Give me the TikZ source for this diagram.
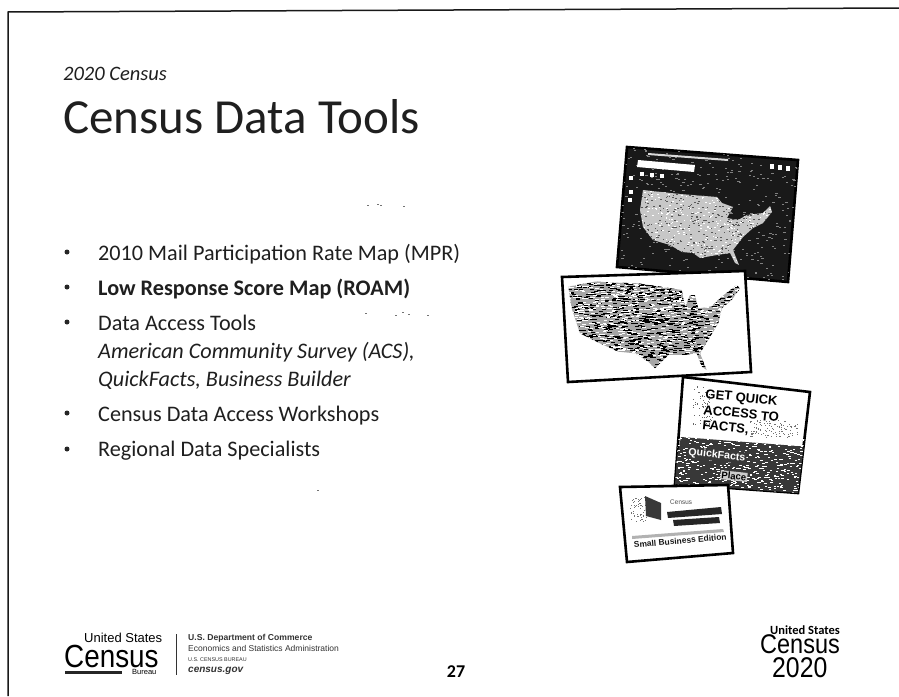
\documentclass[tikz,border=0pt]{standalone}
\usepackage{fontspec}
\setmainfont{Carlito}
\newfontfamily\arialf{Liberation Sans}
\newfontfamily\narrowf[FakeStretch=0.87]{Liberation Sans}
\usetikzlibrary{calc}
\tikzset{
  body/.style={anchor=base west,inner sep=0pt,font=\fontsize{22.2}{26}\selectfont,text=black!88},
  bul/.style={circle,fill=black!85,inner sep=0pt,minimum size=5pt},
  panel/.style={draw=black,line width=2.6pt,fill=white,line join=miter},
  foot/.style={anchor=base west,inner sep=0pt,font=\fontsize{8.5}{9}\selectfont\arialf,text=black!80},
  logo/.style={inner sep=0pt,anchor=base west,text=black},
  qtext/.style={anchor=base west,inner sep=0pt,rotate=-6,font=\arialf\bfseries\fontsize{13}{14}\selectfont},
}
\newcommand{\usoutline}{(3,0) -- (40,4) -- (77,7) -- (82,13) -- (93,17) -- (87,28) -- (98,30) -- (107,25) -- (123,23) -- (130,16) -- (132,22) -- (123,33) -- (113,38) -- (103,47) -- (93,60) -- (99,75) -- (95,73) -- (90,63) -- (77,65) -- (60,68) -- (53,63) -- (42,62) -- (30,55) -- (13,50) -- (3,37) -- (0,20) -- cycle}
\newcommand{\usoutlineb}{(40,65) -- (120,50) -- (250,55) -- (380,75) -- (390,125) -- (405,90) -- (420,90) -- (430,130) -- (470,125) -- (500,95) -- (545,60) -- (555,70) -- (530,105) -- (500,130) -- (490,175) -- (450,240) -- (435,265) -- (455,315) -- (440,305) -- (425,265) -- (385,270) -- (340,270) -- (300,310) -- (280,290) -- (240,265) -- (190,260) -- (135,235) -- (75,205) -- (50,130) -- cycle}
% count, colour, seed, width, height
\newcommand{\specks}[5]{\pgfmathsetseed{#3}\foreach \i in {1,...,#1}{\pgfmathsetmacro{\xx}{rnd*135}\pgfmathsetmacro{\yy}{rnd*78}\fill[#2] (\xx,\yy) rectangle ++(#4,#5);}}
\begin{document}
\begin{tikzpicture}[x=1pt,y=-1pt]
\useasboundingbox (0,0) rectangle (899,696);
\fill[white] (0,0) rectangle (899,696);
% slide frame
\draw[line width=1.5pt,black!90] (8,696) -- (8,12) -- (899,8);
% heading
\node[anchor=base west,inner sep=0pt,font=\itshape\fontsize{20.5}{24}\selectfont,text=black!88] (kicker) at (63,80) {2020 Census};
\node[anchor=base west,inner sep=0pt,font=\fontsize{49}{52}\selectfont,text=black!88] (title) at (63,133) {Census Data Tools};
% bullets
\node[bul] (b1) at (67,252) {};
\node[body] (t1) at (98,260) {2010 Mail Participation Rate Map (MPR)};
\node[bul] (b2) at (67,287) {};
\node[body,font=\bfseries\fontsize{22.2}{26}\selectfont] (t2) at (98,295) {Low Response Score Map (ROAM)};
\node[bul] (b3) at (67,322) {};
\node[body] (t3) at (98,330) {Data Access Tools};
\node[body,font=\itshape\fontsize{22.2}{26}\selectfont] (t3b) at (98,358) {American Community Survey (ACS),};
\node[body,font=\itshape\fontsize{22.2}{26}\selectfont] (t3c) at (98,386) {QuickFacts, Business Builder};
\node[bul] (b4) at (67,413) {};
\node[body] (t4) at (98,421) {Census Data Access Workshops};
\node[bul] (b5) at (67,449) {};
\node[body] (t5) at (98,456) {Regional Data Specialists};
% scan noise
\foreach \a/\b in {367/205,377/204,380/205,403/206,365/313,395/315,402/312,408/314,427/315,317/490}{\fill[black!55] (\a,\b) rectangle ++(1.5,1);}
% dark map panel
\draw[panel,fill=black!90] (627,147) -- (798,160) -- (788,282) -- (617,267) -- cycle;
\begin{scope}
 \clip (627,147) -- (798,160) -- (788,282) -- (617,267) -- cycle;
 \begin{scope}[shift={(615,148)},x=1.35pt,y=-1.7pt]\specks{420}{black!50}{11}{1.6}{0.5}\end{scope}
\end{scope}
\fill[white] (638,160) -- (695,165) -- (694,172) -- (637,167) -- cycle;
\foreach \a/\b in {640/172,650/173,660/174,629/176,629/190,628/198}{\fill[white] (\a,\b) rectangle ++(3.5,3.5);}
\fill[black!15] (648,153) -- (728,159) -- (728,161) -- (648,155) -- cycle;
\foreach \a/\b in {770/164,778/165,786/166}{\fill[white] (\a,\b) rectangle ++(3.5,5);}
\begin{scope}[shift={(640,190)}]
 \fill[black!22] \usoutline;
 \clip \usoutline;
 \specks{500}{black!65}{5}{1.6}{0.7}
 \specks{350}{white}{6}{1.6}{0.7}
\end{scope}
% choropleth map panel
\draw[panel] (562,277) -- (745,271) -- (751,372) -- (568,382) -- cycle;
\begin{scope}[shift={(555,265)},x=0.3333pt,y=-0.3333pt]
  \fill[black!35] \usoutlineb;
  \clip \usoutlineb;
  \begin{scope}[shift={(30,40)},x=1.3pt,y=-1.2pt]
   \specks{1300}{black}{7}{3.2}{0.8}
   \specks{850}{white}{8}{2.6}{0.8}
  \end{scope}
\end{scope}
% QuickFacts panel
\draw[panel] (683,377) -- (810,392) -- (798,493) -- (675,484) -- cycle;
\begin{scope}
 \clip (683,377) -- (810,392) -- (798,493) -- (675,484) -- cycle;
 \fill[black!78] (681,437) -- (810,447) -- (805,500) -- (670,490) -- cycle;
 \begin{scope}[shift={(672,436)},x=1pt,y=-0.75pt]\specks{460}{white}{3}{2.4}{0.7}\end{scope}
 \begin{scope}[shift={(693,385)},x=0.15pt,y=-0.55pt]\specks{70}{black!60}{21}{6}{1.2}\end{scope}
 \begin{scope}[shift={(750,420)},x=0.35pt,y=-0.22pt]\specks{110}{black!55}{22}{3}{2.5}\end{scope}
\end{scope}
\node[qtext] (q1) at (705,398) {GET QUICK};
\node[qtext] (q2) at (703,414) {ACCESS TO};
\node[qtext] (q3) at (702,429) {FACTS,};
\node[qtext,fill=black!78,inner sep=1pt,font=\arialf\bfseries\fontsize{10.6}{12}\selectfont,text=white] (q4) at (687,455) {QuickFacts};
\node[qtext,fill=black!20,inner sep=1pt,font=\arialf\bfseries\fontsize{9.5}{10}\selectfont,text=black] (q5) at (720,478) {Place};
% Business builder panel
\draw[panel] (620,487) -- (728,485) -- (733,553) -- (627,562) -- cycle;
\begin{scope}[shift={(630,497)},x=0.18pt,y=-0.33pt]\specks{70}{black!55}{31}{6}{2.5}\end{scope}
\fill[black!78] (645,496) -- (661,503) -- (661,520) -- (646,516) -- cycle;
\node[anchor=base west,inner sep=0pt,rotate=3,font=\arialf\fontsize{6.5}{7}\selectfont,text=black!70] (c1) at (670,505) {Census};
\fill[black!85] (667,512) -- (721,507) -- (722,514) -- (668,518) -- cycle;
\fill[black!85] (673,520) -- (719,517) -- (720,523) -- (674,526) -- cycle;
\fill[black!30] (632,536) -- (723,529) -- (724,532) -- (632,539) -- cycle;
\node[anchor=base west,inner sep=0pt,rotate=5,font=\arialf\bfseries\fontsize{8.4}{10}\selectfont,text=black!90] (c2) at (634,548) {Small Business Edition};
% footer left
\node[logo,font=\arialf\fontsize{13}{14}\selectfont] (us) at (84,642) {United States};
\node[logo,font=\narrowf\fontsize{32}{33}\selectfont] (cen) at (64,667.5) {Census};
\fill[black!85] (65,671) rectangle (122,673.5);
\node[logo,font=\arialf\fontsize{7.5}{8}\selectfont] (bur) at (132,674.5) {Bureau};
\draw[line width=1pt,black!80] (176,634) -- (176,675);
\node[foot,font=\arialf\bfseries\fontsize{8.6}{9}\selectfont] (f1) at (188,640) {U.S. Department of Commerce};
\node[foot] (f2) at (188,651) {Economics and Statistics Administration};
\node[foot,font=\arialf\fontsize{5.4}{6}\selectfont] (f3) at (188,661) {U.S. CENSUS BUREAU};
\node[foot,font=\arialf\bfseries\itshape\fontsize{10}{11}\selectfont] (f4) at (188,672) {census.gov};
\node[anchor=base,inner sep=0pt,font=\bfseries\fontsize{18}{20}\selectfont] (pg) at (456,677) {27};
% footer right
\node[logo,font=\bfseries\fontsize{12.5}{13}\selectfont] (us2) at (770,634) {United States};
\node[logo,font=\narrowf\fontsize{27}{28}\selectfont] (cen2) at (760,653.5) {Census};
\node[logo,font=\narrowf\fontsize{28.5}{30}\selectfont] (yr) at (772,677) {2020};
\end{tikzpicture}
\end{document}
